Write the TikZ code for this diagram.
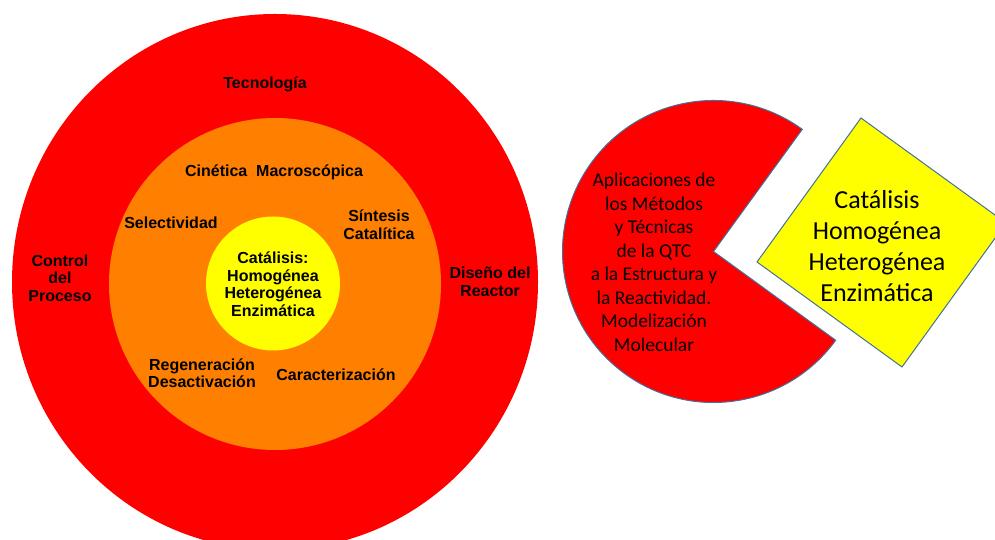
\documentclass[tikz,border=0pt]{standalone}
\usepackage{fontspec}
\setmainfont{Liberation Sans}
\newfontfamily\calibri{Carlito}
\definecolor{rojo}{HTML}{FF0000}
\definecolor{naranja}{HTML}{FF8000}
\definecolor{amarillo}{HTML}{FFFF00}
\definecolor{borde}{HTML}{41719C}

\begin{document}
\begin{tikzpicture}[x=1pt,y=1pt,
  lbl/.style={align=center,font=\bfseries\fontsize{16}{17.5}\selectfont,inner sep=0pt},
  txt/.style={align=center,font=\calibri\fontsize{19.5}{23.5}\selectfont,inner sep=0pt},
  big/.style={align=center,font=\calibri\fontsize{26}{31}\selectfont,inner sep=0pt}]
\useasboundingbox (0,0) rectangle (995,540);
\clip (0,0) rectangle (995,540);

\fill[rojo]     (275,258)   ellipse [x radius=263,y radius=268];
\fill[naranja]  (275,256)   circle [radius=166];
\fill[amarillo] (273,256.5) circle [radius=67];

\node (tec) [lbl] at (265,456)   {Tecnología};
\node (cin) [lbl] at (274,368)   {Cinética\ \ Macroscópica};
\node (sel) [lbl] at (171,317)   {Selectividad};
\node (sin) [lbl] at (379,315.5) {Síntesis\\Catalítica};
\node (cat) [lbl] at (273,256)   {Catálisis:\\Homogénea\\Heterogénea\\Enzimática};
\node (con) [lbl] at (60,262)    {Control\\del\\Proceso};
\node (dis) [lbl] at (490,258)   {Diseño del\\Reactor};
\node (reg) [lbl] at (202,167)   {Regeneración\\Desactivación};
\node (car) [lbl] at (336,165)   {Caracterización};

\filldraw[fill=rojo,draw=borde,line width=1pt] (713.5,288.5) -- ++(54:151)
  arc [start angle=54,end angle=324,radius=151] -- cycle;
\filldraw[fill=amarillo,draw=borde,line width=1pt] (861,422) -- (757,278) -- (902,173) -- (1006,317) -- cycle;

\node (apl) [txt] at (654,277.5) {Aplicaciones de\\los Métodos\\y Técnicas\\de la QTC\\a la Estructura y\\la Reactividad.\\Modelización\\Molecular};
\node (tip) [big] at (877,294)   {Catálisis\\Homogénea\\Heterogénea\\Enzimática};

\end{tikzpicture}
\end{document}
